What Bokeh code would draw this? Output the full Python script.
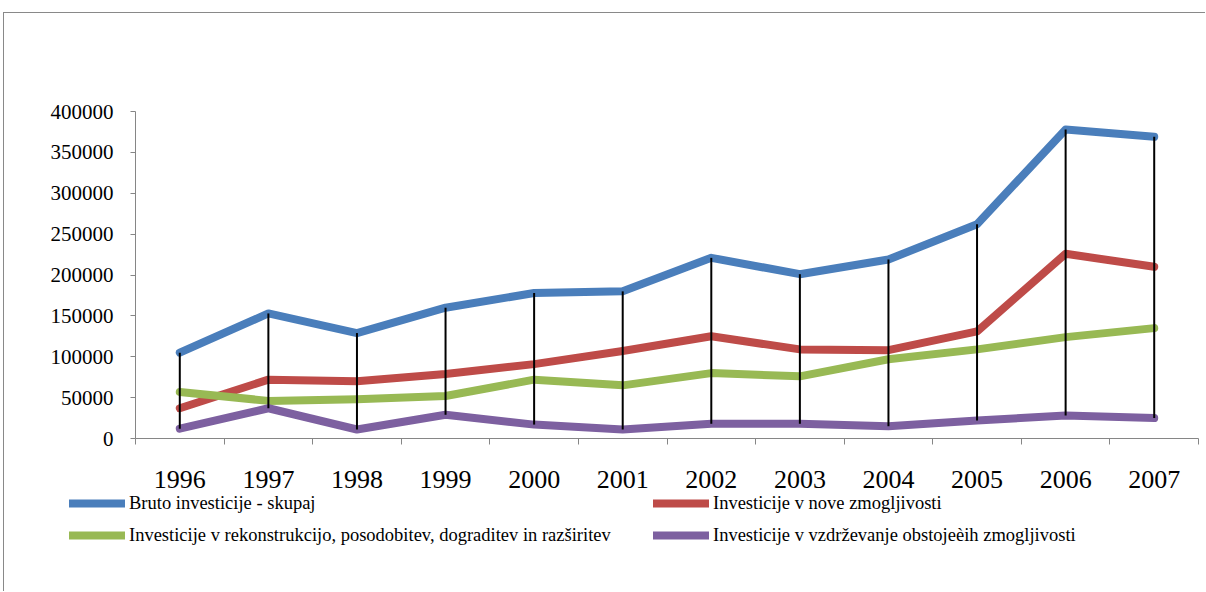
from bokeh.plotting import figure
from bokeh.models import (Range1d, FixedTicker, SingleIntervalTicker, BasicTickFormatter,
                          Legend, LegendItem, ColumnDataSource, LinearAxis)
from bokeh.embed import file_html
from bokeh.resources import INLINE
import numpy as np

# Investments by year (thousand EUR)
years = ["1996", "1997", "1998", "1999", "2000", "2001",
         "2002", "2003", "2004", "2005", "2006", "2007"]
bruto = [105000, 153000, 129000, 160000, 178000, 180000,
         221000, 201000, 219000, 262000, 378000, 369000]
nove = [37000, 72000, 70000, 79000, 91000, 107000,
        125000, 109000, 108000, 131000, 226000, 210000]
rekon = [57000, 46000, 48000, 52000, 72000, 65000,
         80000, 76000, 97000, 109000, 124000, 135000]
vzdr = [12000, 37000, 11000, 29000, 17000, 11000,
        18000, 18000, 15000, 22000, 28000, 25000]

labels = ["Bruto investicije - skupaj",
          "Investicije v nove zmogljivosti",
          "Investicije v rekonstrukcijo, posodobitev, dograditev in razširitev",
          "Investicije v vzdrževanje obstojeèih zmogljivosti"]
colors = ["#4A7EBB", "#BE4B48", "#98B954", "#7D60A0"]
series = [bruto, nove, rekon, vzdr]

FONT = "Liberation Serif"
AXIS_GRAY = "#868686"
Y_MAX = 400000

idx = list(range(len(years)))

# Canvas inside the chart-area border
W, H = 1202, 579
# Plot-area placement on the canvas (pixels)
PA_LEFT, PA_RIGHT, PA_TOP, PA_BOTTOM = 131, 1194, 98, 425

xs = (PA_RIGHT - PA_LEFT) / len(years)            # px per category
x0 = -0.5 - PA_LEFT / xs
x1 = -0.5 + (W - PA_LEFT) / xs
ys = (PA_BOTTOM - PA_TOP) / Y_MAX                  # px per unit
y0 = -(H - PA_BOTTOM) / ys
y1 = Y_MAX + PA_TOP / ys

p = figure(width=W, height=H, min_border=0,
           x_range=Range1d(x0, x1), y_range=Range1d(y0, y1),
           x_axis_location=None, y_axis_location=None,
           output_backend="svg", toolbar_location=None, tools="")
p.styles = {"margin-left": "3px", "margin-top": "12px",
            "border-top": "1px solid #898989",
            "border-left": "1px solid #898989"}
p.outline_line_color = None
p.xgrid.visible = False
p.ygrid.visible = False
p.background_fill_color = "white"
p.border_fill_color = "white"

# category axis: year labels at centres, tick marks on category boundaries
xa = LinearAxis(fixed_location=0, bounds=(-0.5, len(years) - 0.5))
xa.ticker = FixedTicker(ticks=idx, minor_ticks=[i - 0.5 for i in range(len(years) + 1)])
xa.major_label_overrides = {i: y for i, y in zip(idx, years)}
xa.major_tick_out = 0
xa.major_tick_in = 0
xa.minor_tick_out = 6
xa.minor_tick_in = 0
xa.minor_tick_line_color = AXIS_GRAY
xa.axis_line_color = AXIS_GRAY
xa.major_label_text_font = FONT
xa.major_label_text_font_size = "26px"
xa.major_label_text_color = "black"
xa.major_label_standoff = 26
p.add_layout(xa, "below")

ya = LinearAxis(fixed_location=-0.5, bounds=(0, Y_MAX))
ya.ticker = SingleIntervalTicker(interval=50000)
ya.formatter = BasicTickFormatter(use_scientific=False)
ya.minor_tick_line_color = None
ya.major_tick_out = 5
ya.major_tick_in = 0
ya.major_tick_line_color = AXIS_GRAY
ya.axis_line_color = AXIS_GRAY
ya.major_label_text_font = FONT
ya.major_label_text_font_size = "21px"
ya.major_label_text_color = "black"
ya.major_label_standoff = 17
p.add_layout(ya, "left")

renderers = []
for vals, col in zip(series, colors):
    r = p.line(idx, vals, line_color=col, line_width=8,
               line_cap="round", line_join="round")
    renderers.append(r)

# high-low lines between the largest and smallest value of each year
arr = np.array(series)
hl = ColumnDataSource(dict(x=idx, hi=arr.max(axis=0), lo=arr.min(axis=0)))
p.segment(x0="x", y0="hi", x1="x", y1="lo", source=hl,
          line_color="black", line_width=2)

def make_legend(items, loc):
    return Legend(items=items, location=loc, orientation="vertical",
                  glyph_width=56, glyph_height=22, label_height=22,
                  label_standoff=4, spacing=10, padding=0, margin=0,
                  label_text_font=FONT, label_text_font_size="18.5px",
                  label_text_color="black",
                  border_line_color=None, background_fill_alpha=0)

# legend blocks: left edge and bottom edge in canvas pixels (bottom-up)
LEG_BOTTOM = H - 533
leg1 = make_legend([LegendItem(label=labels[0], renderers=[renderers[0]]),
                    LegendItem(label=labels[2], renderers=[renderers[2]])], (65, LEG_BOTTOM))
leg2 = make_legend([LegendItem(label=labels[1], renderers=[renderers[1]]),
                    LegendItem(label=labels[3], renderers=[renderers[3]])], (649, LEG_BOTTOM))
p.add_layout(leg1)
p.add_layout(leg2)

open("out.html", "w").write(file_html(p, INLINE))
